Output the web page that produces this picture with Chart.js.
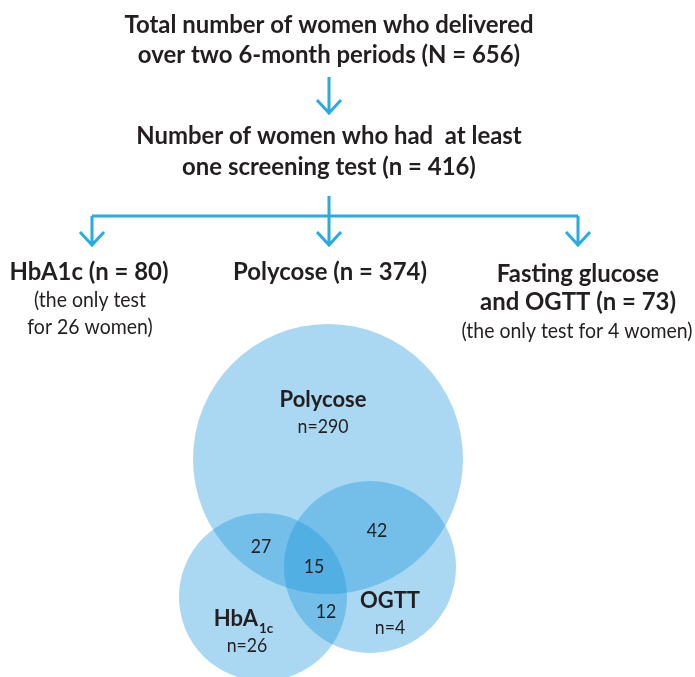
<!DOCTYPE html>
<html>
<head>
<meta charset="utf-8">
<script src="https://cdn.jsdelivr.net/npm/chart.js@4/dist/chart.umd.min.js"></script>
<style>
html, body { margin: 0; padding: 0; background: #fff; }
#wrap { width: 695px; height: 677px; }
</style>
</head>
<body>
<div id="wrap"><canvas id="chart"></canvas></div>
<script>
'use strict';

// flow chart numbers
const totalDelivered = 656;
const screened = 416;
const testNames = ['HbA1c', 'Polycose', 'Fasting glucose and OGTT'];
const testCounts = [80, 374, 73];
const onlyTestCounts = [26, 290, 4];

// venn numbers
const vennSets = ['Polycose', 'HbA1c', 'OGTT'];
const vennOnly = [290, 26, 4];
const pairNames = ['Polycose & HbA1c', 'Polycose & OGTT', 'HbA1c & OGTT'];
const pairCounts = [27, 42, 12];
const allThree = 15;

const blue = "#29abe2";
const ink = "#231f20";
const circleFill = "rgba(20, 148, 218, 0.36)";

// layout (pixel units, axes run 0..695 and 0..677)
const vennCircles = [
    {x: 328, y: 459, r: 135},
    {x: 263, y: 597, r: 84},
    {x: 370, y: 567, r: 86}
];
const branchY = 216;
const branchX = [92, 329, 578];

function arrow(x, y0, y1){
    return [
        {x: x, y: y0}, {x: x, y: y1}, {x: x, y: null},
        {x: x - 12, y: y1 - 13}, {x: x, y: y1}, {x: x + 12, y: y1 - 13}
    ];
}

var lineSets = [
    arrow(329, 77, 113),
    [{x: 329, y: 196}, {x: 329, y: branchY}],
    [{x: branchX[0], y: branchY}, {x: branchX[2], y: branchY}]
];
branchX.forEach(bx => lineSets.push(arrow(bx, branchY, 245)));

var datasets = vennSets.map((name, i) => ({
    type: 'bubble',
    label: name,
    data: [{x: vennCircles[i].x, y: vennCircles[i].y, r: vennCircles[i].r}],
    backgroundColor: circleFill,
    borderWidth: 0,
    hoverRadius: 0,
    clip: false
}));
lineSets.forEach(pts => datasets.push({
    type: 'line',
    data: pts,
    borderColor: blue,
    borderWidth: 3,
    pointRadius: 0,
    fill: false,
    spanGaps: false,
    borderJoinStyle: 'miter',
    tension: 0
}));

const textItems = [
    {t: 'Total number of women who delivered', x: 329, y: 33, s: 'head'},
    {t: 'over two 6-month periods (N = ' + totalDelivered + ')', x: 329, y: 63, s: 'head'},
    {t: 'Number of women who had  at least', x: 329, y: 144, s: 'head'},
    {t: 'one screening test (n = ' + screened + ')', x: 329, y: 175, s: 'head'},
    {t: testNames[0] + ' (n = ' + testCounts[0] + ')', x: 89, y: 280, s: 'head'},
    {t: '(the only test', x: 90, y: 307, s: 'note'},
    {t: 'for ' + onlyTestCounts[0] + ' women)', x: 90, y: 334, s: 'note'},
    {t: testNames[1] + ' (n = ' + testCounts[1] + ')', x: 330, y: 280, s: 'head'},
    {t: 'Fasting glucose', x: 578, y: 282, s: 'head'},
    {t: 'and OGTT (n = ' + testCounts[2] + ')', x: 578, y: 310, s: 'head'},
    {t: '(the only test for ' + onlyTestCounts[2] + ' women)', x: 577, y: 338, s: 'note'},
    {t: vennSets[0], x: 323, y: 407, s: 'vb'},
    {t: 'n=' + vennOnly[0], x: 323, y: 433, s: 'vr'},
    {t: String(pairCounts[0]), x: 261, y: 553, s: 'vr'},
    {t: String(pairCounts[1]), x: 377, y: 537, s: 'vr'},
    {t: String(pairCounts[2]), x: 326, y: 618, s: 'vr'},
    {t: String(allThree), x: 314, y: 573, s: 'vr'},
    {t: vennSets[2], x: 390, y: 608, s: 'vb'},
    {t: 'n=' + vennOnly[2], x: 390, y: 634, s: 'vr'},
    {t: 'n=' + vennOnly[1], x: 247, y: 652, s: 'vr'}
];

const fonts = {
    head: 'bold 25px Lato',
    note: '22px Lato',
    vb: 'bold 23px Lato',
    vr: '20px Lato',
    sub: 'bold 14px Lato'
};

const textPlugin = {
    id: 'texts',
    afterDatasetsDraw(chart){
        const ctx = chart.ctx;
        const xs = chart.scales.x, ys = chart.scales.y;
        ctx.save();
        // squeeze the fonts to the narrow face of the original
        ctx.font = fonts.head;
        const boldK = 409 / ctx.measureText('Total number of women who delivered').width;
        ctx.font = fonts.note;
        const regK = 231 / ctx.measureText('(the only test for 4 women)').width;

        function put(t, x, y, font, align){
            const k = font.indexOf('bold') === 0 ? boldK : regK;
            ctx.save();
            ctx.font = font;
            ctx.fillStyle = ink;
            ctx.textAlign = align || 'center';
            ctx.textBaseline = 'alphabetic';
            ctx.translate(xs.getPixelForValue(x), ys.getPixelForValue(y));
            ctx.scale(k, 1);
            ctx.fillText(t, 0, 0);
            ctx.restore();
        }

        textItems.forEach(it => put(it.t, it.x, it.y, fonts[it.s]));
        // HbA with subscript 1c
        put(vennSets[1].slice(0, 3), 258, 626, fonts.vb, 'right');
        put(vennSets[1].slice(3), 259, 633, fonts.sub, 'left');
        ctx.restore();
    }
};

const ctx = document.getElementById('chart').getContext('2d');
new Chart(ctx, {
    type: 'bubble',
    data: {datasets: datasets},
    plugins: [textPlugin],
    options: {
        responsive: true,
        maintainAspectRatio: false,
        animation: false,
        events: [],
        layout: {padding: 0, autoPadding: false},
        plugins: {legend: {display: false}, tooltip: {enabled: false}},
        scales: {
            x: {type: 'linear', min: 0, max: 695, display: false},
            y: {type: 'linear', min: 0, max: 677, reverse: true, display: false}
        }
    }
});
</script>
</body>
</html>
